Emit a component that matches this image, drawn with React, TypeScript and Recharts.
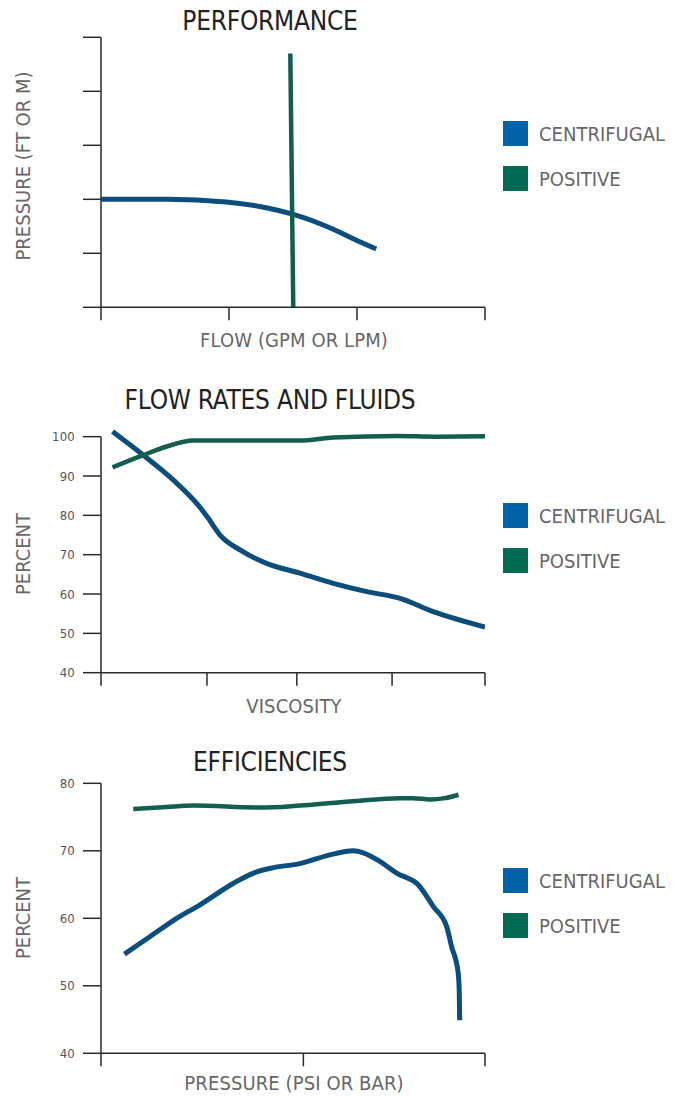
import React from "react";
import { LineChart, Line, XAxis, YAxis, ReferenceLine } from "recharts";

// colours
const CENTRIFUGAL_LINE = "#0b4d7d";
const POSITIVE_LINE = "#135e4e";
const CENTRIFUGAL_KEY = "#0063a7";
const POSITIVE_KEY = "#006a52";
const AXIS = "#2a2a2a";
const FONT = "'DejaVu Sans Condensed', 'Liberation Sans Narrow', 'Arial Narrow', sans-serif";

// PERFORMANCE
const perfXTicks = [0, 1, 2, 3];
const perfYTicks = [0, 1, 2, 3, 4, 5];
const perfCentrifugal = [
  { x: 0, y: 2.0 },
  { x: 0.52, y: 2.0 },
  { x: 0.98, y: 1.95 },
  { x: 1.3, y: 1.84 },
  { x: 1.49, y: 1.73 },
  { x: 1.81, y: 1.45 },
  { x: 1.97, y: 1.27 },
  { x: 2.15, y: 1.08 },
];
const perfPositive = [
  { x: 1.479, y: 4.7 },
  { x: 1.502, y: 0 },
];

// FLOW RATES AND FLUIDS
const fluidXTicks = [0, 27.6, 51, 75.8, 100];
const fluidYTicks = [40, 50, 60, 70, 80, 90, 100];
const fluidCentrifugal = [
  { x: 3, y: 101.3 },
  { x: 11, y: 95.3 },
  { x: 18.8, y: 89.0 },
  { x: 25.3, y: 82.6 },
  { x: 27.9, y: 79.3 },
  { x: 31, y: 75.0 },
  { x: 36.2, y: 71.2 },
  { x: 43.1, y: 67.8 },
  { x: 51.8, y: 65.3 },
  { x: 60.5, y: 62.7 },
  { x: 69.2, y: 60.6 },
  { x: 77.9, y: 58.9 },
  { x: 86.5, y: 55.5 },
  { x: 100, y: 51.6 },
];
const fluidPositive = [
  { x: 3, y: 92.2 },
  { x: 11, y: 95.3 },
  { x: 17.1, y: 97.5 },
  { x: 24, y: 99.0 },
  { x: 51.8, y: 99.0 },
  { x: 60.5, y: 99.8 },
  { x: 77.2, y: 100.2 },
  { x: 87, y: 100 },
  { x: 100, y: 100.1 },
];

// EFFICIENCIES
const effXTicks = [0, 52.7, 100];
const effYTicks = [40, 50, 60, 70, 80];
const effCentrifugal = [
  { x: 6.1, y: 54.7 },
  { x: 12.8, y: 57.3 },
  { x: 19.7, y: 60.0 },
  { x: 25.8, y: 62.0 },
  { x: 34.5, y: 65.2 },
  { x: 39.7, y: 66.7 },
  { x: 44.9, y: 67.5 },
  { x: 51.8, y: 68.1 },
  { x: 59.6, y: 69.4 },
  { x: 65.7, y: 70.0 },
  { x: 68.3, y: 69.7 },
  { x: 72.7, y: 68.4 },
  { x: 77, y: 66.7 },
  { x: 82.7, y: 64.9 },
  { x: 86.6, y: 61.7 },
  { x: 90, y: 58.8 },
  { x: 91.3, y: 55.8 },
  { x: 93, y: 52.0 },
  { x: 93.3, y: 49.0 },
  { x: 93.4, y: 44.9 },
];
const effPositive = [
  { x: 8.4, y: 76.2 },
  { x: 17.1, y: 76.5 },
  { x: 24, y: 76.7 },
  { x: 41.4, y: 76.4 },
  { x: 51.8, y: 76.7 },
  { x: 64.8, y: 77.3 },
  { x: 77.9, y: 77.8 },
  { x: 81.3, y: 77.8 },
  { x: 85.7, y: 77.6 },
  { x: 89.6, y: 77.8 },
  { x: 93.1, y: 78.3 },
];

const legendItems = [
  { name: "CENTRIFUGAL", color: CENTRIFUGAL_KEY },
  { name: "POSITIVE", color: POSITIVE_KEY },
];

type Pt = { x: number; y: number };

interface PanelProps {
  top: number;
  height: number;
  marginTop: number;
  marginBottom: number;
  title: string;
  titleY: number;
  xLabel: string;
  xLabelY: number;
  yLabel: string;
  yLabelY: number;
  legendTop: number;
  xDomain: [number, number];
  yDomain: [number, number];
  axisTop: number;
  xTicks: number[];
  yTicks: number[];
  showYLabels: boolean;
  centrifugal: Pt[];
  positive: Pt[];
  positiveType?: "linear" | "monotone";
}

const blank = () => "";
const tickLineStyle = { stroke: AXIS, strokeWidth: 1.5 };

function Legend({ top }: { top: number }) {
  return (
    <>
      {legendItems.map((item, i) => (
        <div
          key={item.name}
          style={{ position: "absolute", left: 503, top: top + i * 45, height: 25, display: "flex", alignItems: "center" }}
        >
          <div style={{ width: 25, height: 25, background: item.color }} />
          <span style={{ marginLeft: 11, fontFamily: FONT, fontSize: 20, color: "#666", whiteSpace: "nowrap" }}>
            {item.name}
          </span>
        </div>
      ))}
    </>
  );
}

function Panel(p: PanelProps) {
  return (
    <>
      <div style={{ position: "absolute", left: 0, top: p.top, width: 500, height: p.height }}>
        <LineChart
          width={500}
          height={p.height}
          margin={{ top: p.marginTop, right: 15, left: 41, bottom: p.marginBottom - 30 }}
        >
          <XAxis
            type="number"
            dataKey="x"
            domain={p.xDomain}
            ticks={p.xTicks}
            allowDataOverflow
            height={30}
            tickFormatter={blank}
            tickLine={tickLineStyle}
            tickSize={13}
            axisLine={tickLineStyle}
            stroke={AXIS}
            interval={0}
          />
          <YAxis
            type="number"
            dataKey="y"
            domain={p.yDomain}
            ticks={p.yTicks}
            width={60}
            tick={{ fill: "#555", fontSize: 13, fontFamily: FONT, letterSpacing: 0.2 }}
            tickFormatter={p.showYLabels ? undefined : blank}
            tickLine={tickLineStyle}
            tickSize={18}
            tickMargin={8}
            axisLine={false}
            stroke={AXIS}
            interval={0}
          />
          <ReferenceLine
            segment={[
              { x: p.xDomain[0], y: p.yDomain[0] },
              { x: p.xDomain[0], y: p.axisTop },
            ]}
            stroke={AXIS}
            strokeWidth={1.5}
          />
          <Line
            data={p.centrifugal}
            dataKey="y"
            type="monotone"
            stroke={CENTRIFUGAL_LINE}
            strokeWidth={5}
            dot={false}
            isAnimationActive={false}
          />
          <Line
            data={p.positive}
            dataKey="y"
            type={p.positiveType ?? "monotone"}
            stroke={POSITIVE_LINE}
            strokeWidth={4.5}
            dot={false}
            isAnimationActive={false}
          />
        </LineChart>
      </div>
      <div
        style={{
          position: "absolute", left: 270, top: p.titleY, transform: "translate(-50%, -50%)",
          fontFamily: FONT, fontSize: 26, letterSpacing: -0.25, color: "#222", whiteSpace: "nowrap",
        }}
      >
        {p.title}
      </div>
      <div
        style={{
          position: "absolute", left: 294, top: p.xLabelY, transform: "translate(-50%, -50%)",
          fontFamily: FONT, fontSize: 20, letterSpacing: 0.1, color: "#666", whiteSpace: "nowrap",
        }}
      >
        {p.xLabel}
      </div>
      <div
        style={{
          position: "absolute", left: 23, top: p.yLabelY, transform: "translate(-50%, -50%) rotate(-90deg)",
          fontFamily: FONT, fontSize: 20, color: "#666", whiteSpace: "nowrap",
        }}
      >
        {p.yLabel}
      </div>
      <Legend top={p.legendTop} />
    </>
  );
}

export default function App() {
  return (
    <div style={{ position: "absolute", left: 0, top: 0, width: 684, height: 1096, background: "#fff", overflow: "hidden" }}>
      <Panel
        top={0}
        height={360}
        marginTop={37.3}
        marginBottom={52.7}
        title="PERFORMANCE"
        titleY={21}
        xLabel="FLOW (GPM OR LPM)"
        xLabelY={340}
        yLabel="PRESSURE (FT OR M)"
        yLabelY={166}
        legendTop={121}
        xDomain={[0, 3]}
        yDomain={[0, 5]}
        axisTop={5}
        xTicks={perfXTicks}
        yTicks={perfYTicks}
        showYLabels={false}
        centrifugal={perfCentrifugal}
        positive={perfPositive}
        positiveType="linear"
      />
      <Panel
        top={380}
        height={340}
        marginTop={48.8}
        marginBottom={47.3}
        title="FLOW RATES AND FLUIDS"
        titleY={400}
        xLabel="VISCOSITY"
        xLabelY={706}
        yLabel="PERCENT"
        yLabelY={554}
        legendTop={503}
        xDomain={[0, 100]}
        yDomain={[40, 102]}
        axisTop={100}
        xTicks={fluidXTicks}
        yTicks={fluidYTicks}
        showYLabels
        centrifugal={fluidCentrifugal}
        positive={fluidPositive}
      />
      <Panel
        top={740}
        height={356}
        marginTop={43.3}
        marginBottom={42.7}
        title="EFFICIENCIES"
        titleY={762}
        xLabel="PRESSURE (PSI OR BAR)"
        xLabelY={1083}
        yLabel="PERCENT"
        yLabelY={918}
        legendTop={868}
        xDomain={[0, 100]}
        yDomain={[40, 80]}
        axisTop={80}
        xTicks={effXTicks}
        yTicks={effYTicks}
        showYLabels
        centrifugal={effCentrifugal}
        positive={effPositive}
      />
    </div>
  );
}
